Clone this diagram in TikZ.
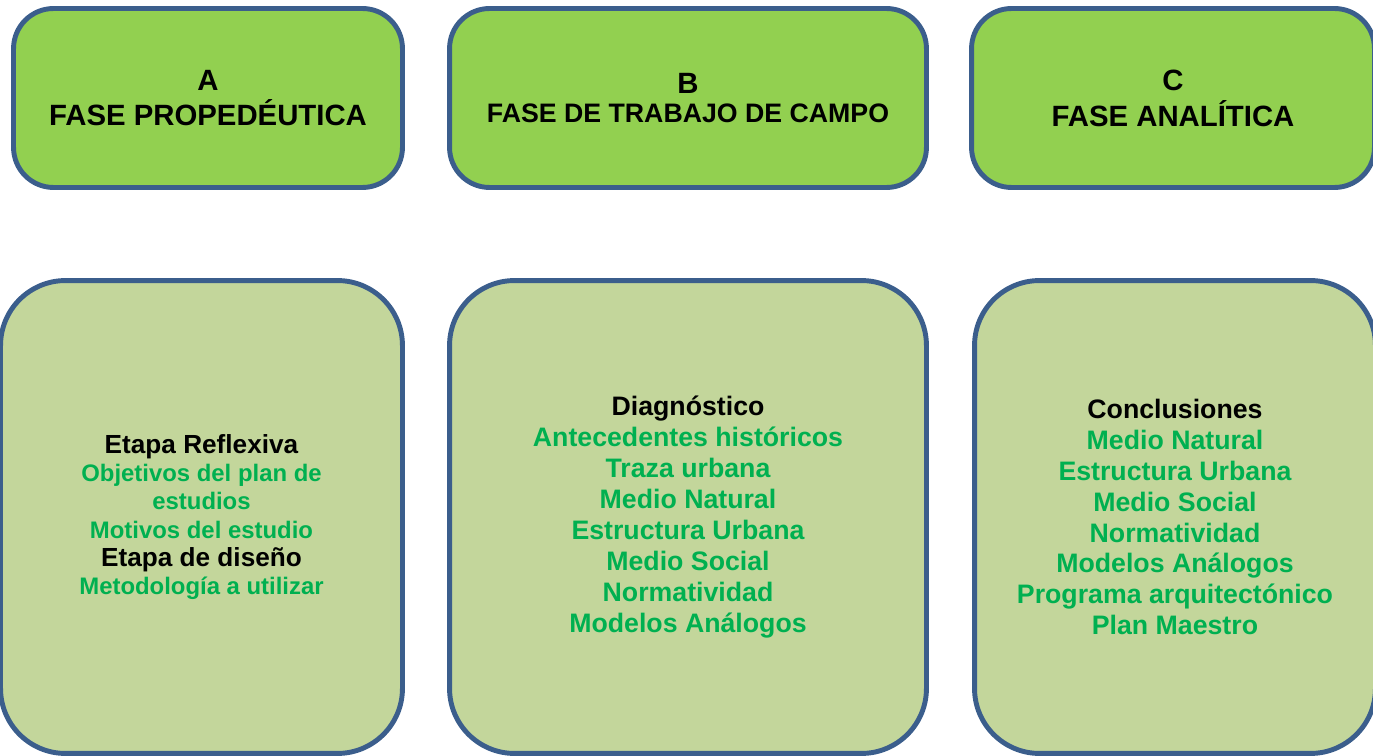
\documentclass[tikz,border=0pt]{standalone}
\usepackage{fontspec}
\setmainfont{Liberation Sans}
\usepackage{tikz}
\usetikzlibrary{shapes, calc, positioning}

\definecolor{fasefill}{HTML}{92D050}
\definecolor{contfill}{HTML}{C3D69B}
\definecolor{boxline}{HTML}{3B5E8C}
\definecolor{itemgreen}{HTML}{00B050}

\begin{document}
\begin{tikzpicture}[x=0.02cm, y=-0.02cm]
	\tikzstyle{fase} = [draw=boxline, fill=fasefill, line width=2.8pt, rounded corners=0.8cm, minimum height=3.58cm, align=center, font=\bfseries\fontsize{16.7}{20.4}\selectfont]
	\tikzstyle{cont} = [draw=boxline, fill=contfill, line width=2.8pt, rounded corners=1.3cm, minimum height=9.46cm, align=center, font=\bfseries\fontsize{15.2}{17.6}\selectfont]

	\useasboundingbox (0,0) rectangle (1373,756);

	% fases
	\node[fase, minimum width=7.78cm] (faseA) at (208,98)
		{A\\ FASE PROPEDÉUTICA};
	\node[fase, minimum width=9.54cm, font=\bfseries\fontsize{15.2}{17}\selectfont] (faseB) at (688,98)
		{{\fontsize{16.7}{17}\selectfont B}\\ FASE DE TRABAJO DE CAMPO};
	\node[fase, minimum width=8.06cm] (faseC) at (1173,98)
		{C\\ FASE ANALÍTICA};

	% contenidos
	\node[cont, minimum width=8.04cm, font=\bfseries\fontsize{13.6}{16.1}\selectfont] (contA) at (201.5,517)
		{{\fontsize{14.9}{16.1}\selectfont Etapa Reflexiva}\\
		\textcolor{itemgreen}{Objetivos del plan de}\\
		\textcolor{itemgreen}{estudios}\\
		\textcolor{itemgreen}{Motivos del estudio}\\
		{\fontsize{14.9}{16.1}\selectfont Etapa de diseño}\\
		\textcolor{itemgreen}{Metodología a utilizar}};
	\node[cont, minimum width=9.54cm] (contB) at (688,517)
		{Diagnóstico\\
		\textcolor{itemgreen}{Antecedentes históricos}\\
		\textcolor{itemgreen}{Traza urbana}\\
		\textcolor{itemgreen}{Medio Natural}\\
		\textcolor{itemgreen}{Estructura Urbana}\\
		\textcolor{itemgreen}{Medio Social}\\
		\textcolor{itemgreen}{Normatividad}\\
		\textcolor{itemgreen}{Modelos Análogos}};
	\node[cont, minimum width=8.02cm] (contC) at (1175,517)
		{Conclusiones\\
		\textcolor{itemgreen}{Medio Natural}\\
		\textcolor{itemgreen}{Estructura Urbana}\\
		\textcolor{itemgreen}{Medio Social}\\
		\textcolor{itemgreen}{Normatividad}\\
		\textcolor{itemgreen}{Modelos Análogos}\\
		\textcolor{itemgreen}{Programa arquitectónico}\\
		\textcolor{itemgreen}{Plan Maestro}};
\end{tikzpicture}
\end{document}
